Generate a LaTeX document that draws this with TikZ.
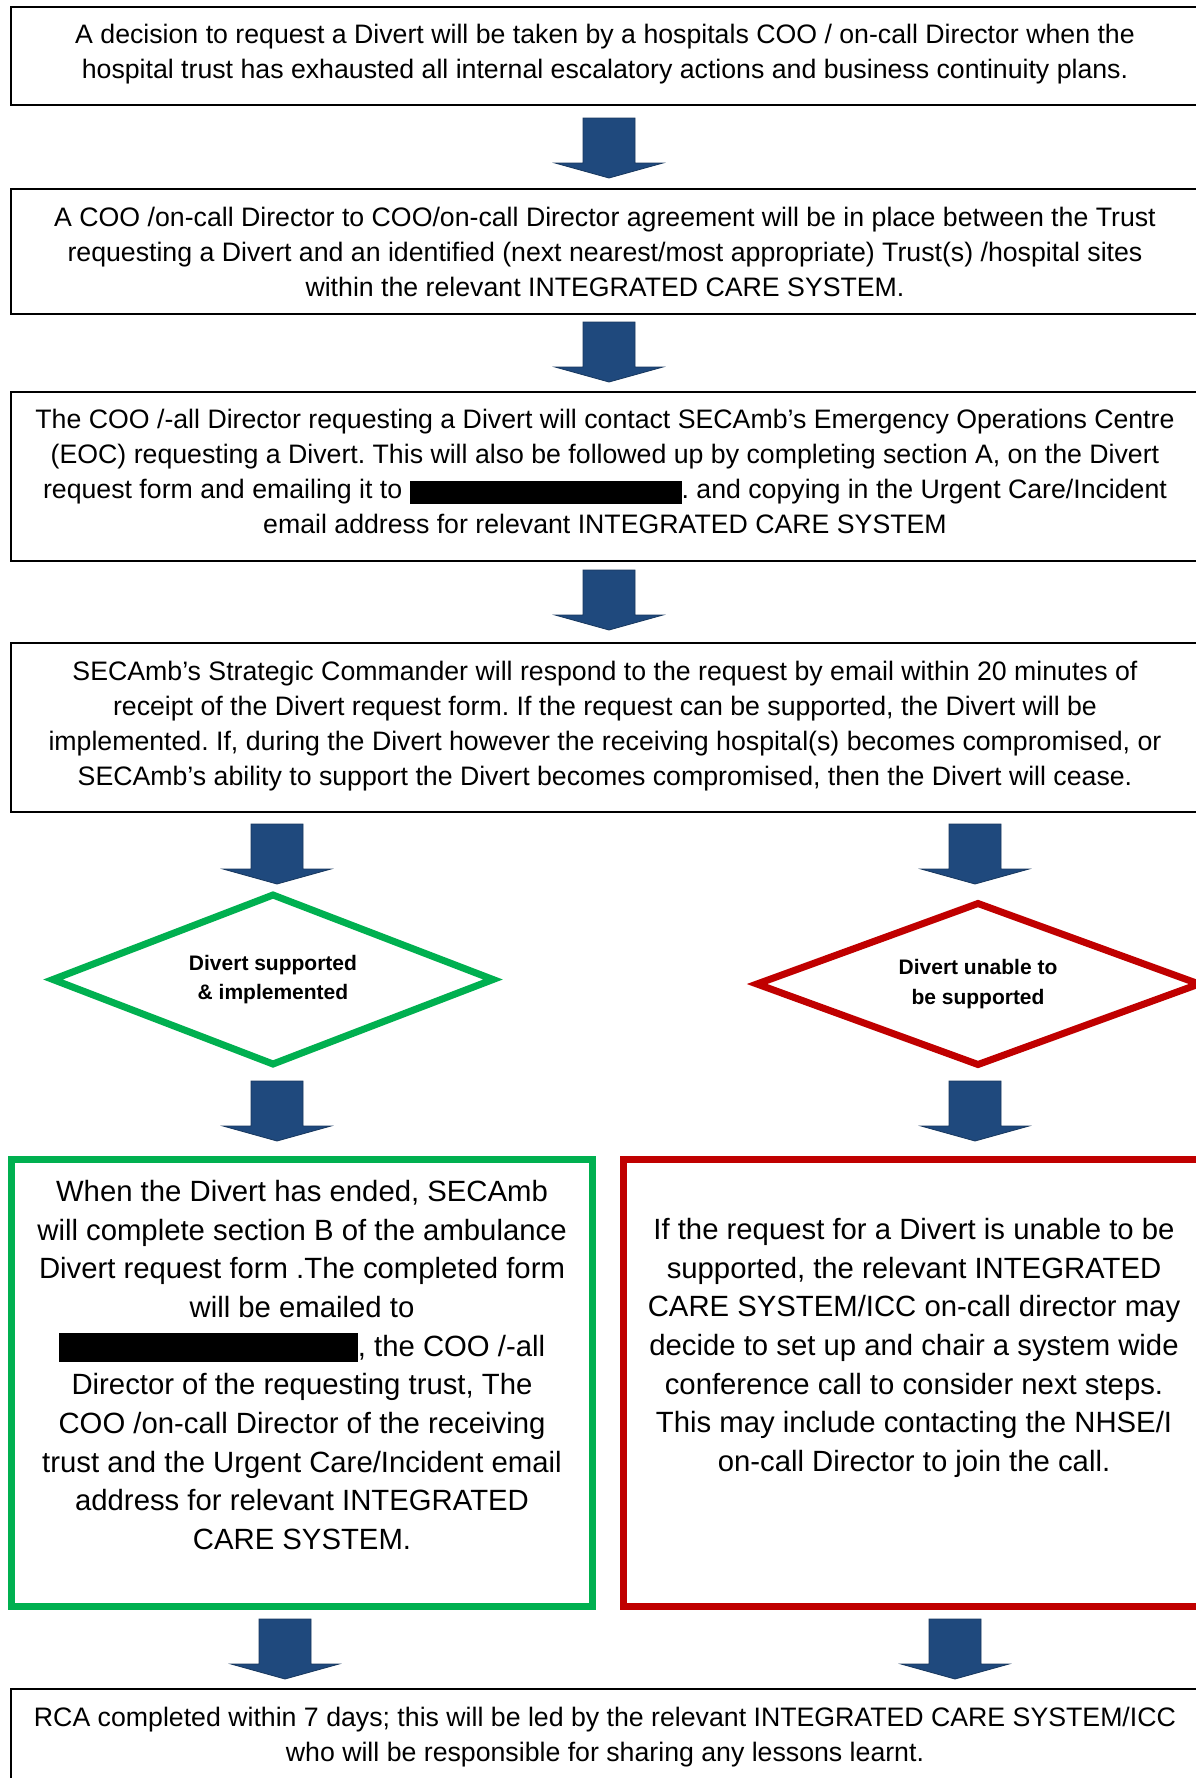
\documentclass[tikz,border=0pt]{standalone}
\usepackage{fontspec}
\setmainfont{Liberation Sans}
\usetikzlibrary{shapes.geometric,calc}
\definecolor{arrowblue}{HTML}{1F497D}
\definecolor{arrowedge}{HTML}{17375E}
\definecolor{okgreen}{HTML}{00B050}
\definecolor{nored}{HTML}{C00000}
\frenchspacing
\tikzset{
  pics/downarrow/.style={code={
    \filldraw[fill=arrowblue, draw=arrowedge, line width=0.8pt, line join=miter]
      (-26,-30) -- (26,-30) -- (26,15) -- (54,15) -- (0,30) -- (-54,15) -- (-26,15) -- cycle;}},
  flowbox/.style={draw=black, line width=2pt, fill=white, inner sep=0pt, outer sep=0pt, anchor=north west},
  colbox/.style={line width=7pt, fill=white, inner sep=0pt, outer sep=0pt, anchor=north west},
  bodytext/.style={align=center, font=\fontsize{26.7}{35}\selectfont, inner sep=0pt},
  bigtext/.style={align=center, font=\fontsize{29.3}{38.7}\selectfont, inner sep=0pt},
  decision/.style={diamond, aspect=2.6, line width=7pt, fill=white, inner sep=0pt, outer sep=0pt,
    miter limit=20, align=center, font=\bfseries\fontsize{21}{29.5}\selectfont}
}
\begin{document}
\begin{tikzpicture}[x=1pt,y=-1pt]
\useasboundingbox (0,0) rectangle (1195,1778);
\fill[white] (0,0) rectangle (1195,1778);

% boxes
\node[flowbox, minimum width=1196pt, minimum height=98pt] (b1) at (11,7) {};
\node[flowbox, minimum width=1196pt, minimum height=125pt] (b2) at (11,189) {};
\node[flowbox, minimum width=1196pt, minimum height=169pt] (b3) at (11,392) {};
\node[flowbox, minimum width=1196pt, minimum height=169pt] (b4) at (11,643) {};
\node[flowbox, minimum width=1196pt, minimum height=120pt] (b5) at (11,1689) {};
\node[colbox, draw=okgreen, minimum width=581pt, minimum height=447pt] (gbox) at (11.5,1159.5) {};
\node[colbox, draw=nored, minimum width=590pt, minimum height=447pt] (rbox) at (623.5,1159.5) {};

% texts
\node[bodytext] (t1) at (605,54.5) {A decision to request a Divert will be taken by a hospitals COO / on-call Director when the\\hospital trust has exhausted all internal escalatory actions and business continuity plans.};
\node[bodytext] (t2) at (605,251.5) {A COO /on-call Director to COO/on-call Director agreement will be in place between the Trust\\requesting a Divert and an identified (next nearest/most appropriate) Trust(s) /hospital sites\\within the relevant INTEGRATED CARE SYSTEM.};
\node[bodytext] (t3) at (605,471.5) {The COO /-all Director requesting a Divert will contact SECAmb’s Emergency Operations Centre\\(EOC) requesting a Divert. This will also be followed up by completing section A, on the Divert\\request form and emailing it to \rule[-5pt]{272pt}{23pt}. and copying in the Urgent Care/Incident\\email address for relevant INTEGRATED CARE SYSTEM};
\node[bodytext] (t4) at (605,726.5) {SECAmb’s Strategic Commander will respond to the request by email within 20 minutes of\\receipt of the Divert request form. If the request can be supported, the Divert will be\\implemented. If, during the Divert however the receiving hospital(s) becomes compromised, or\\SECAmb’s ability to support the Divert becomes compromised, then the Divert will cease.};
\node[bigtext] (tg) at (302,1365) {When the Divert has ended, SECAmb\\will complete section B of the ambulance\\Divert request form .The completed form\\will be emailed to\\\rule[-6pt]{299pt}{29pt}, the COO /-all\\Director of the requesting trust, The\\COO /on-call Director of the receiving\\trust and the Urgent Care/Incident email\\address for relevant INTEGRATED\\CARE SYSTEM.};
\node[bigtext] (tr) at (914,1348) {If the request for a Divert is unable to be\\supported, the relevant INTEGRATED\\CARE SYSTEM/ICC on-call director may\\decide to set up and chair a system wide\\conference call to consider next steps.\\This may include contacting the NHSE/I\\on-call Director to join the call.};
\node[bodytext] (t5) at (605,1737) {RCA completed within 7 days; this will be led by the relevant INTEGRATED CARE SYSTEM/ICC\\who will be responsible for sharing any lessons learnt.};

% decisions
\node[decision, draw=okgreen, minimum width=440pt, minimum height=169pt] (d1) at (273,979.5) {Divert supported\\\& implemented};
\node[decision, draw=nored, minimum width=442pt, minimum height=161pt] (d2) at (978,984) {Divert unable to\\be supported};

% block arrows
\pic at (609,148) {downarrow};
\pic at (609,352) {downarrow};
\pic at (609,600) {downarrow};
\pic at (277,854) {downarrow};
\pic at (975,854) {downarrow};
\pic at (277,1111) {downarrow};
\pic at (975,1111) {downarrow};
\pic at (285,1649) {downarrow};
\pic at (955,1649) {downarrow};
\end{tikzpicture}
\end{document}
